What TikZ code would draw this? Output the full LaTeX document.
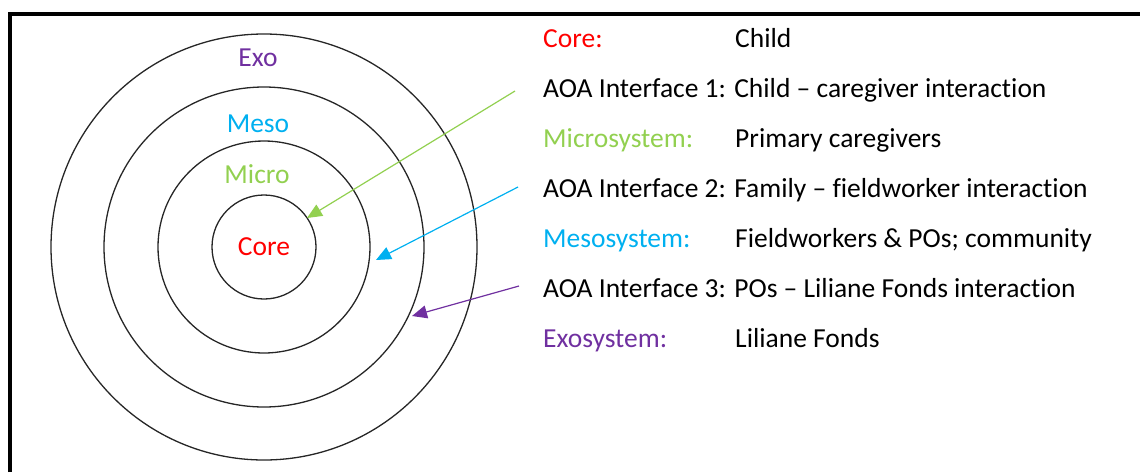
\documentclass[tikz,border=0pt]{standalone}
\usepackage{fontspec}
\setmainfont{Carlito}[RawFeature=-liga]
\usetikzlibrary{arrows.meta}
\tikzset{>=latex}
\colorlet{corecol}{red}
\definecolor{microcol}{RGB}{146,208,80}
\definecolor{mesocol}{RGB}{0,176,240}
\definecolor{exocol}{RGB}{112,48,160}
\tikzstyle{ring}=[line width=1.3pt,black!85]
\tikzstyle{frame}=[line width=4pt,black]
\tikzstyle{lbl}=[inner sep=0pt,font=\fontsize{27.5}{32}\selectfont]
\tikzstyle{row}=[lbl,anchor=base west]
\tikzset{
  pointer/.style={line width=1.2pt,#1,-{Triangle[length=15pt,width=13pt]}},
  pointer/.default=black}

\begin{document}
\begin{tikzpicture}[x=1pt,y=-1pt]
  \def\cx{264}
  \def\cy{247}
  \def\xa{543}
  \def\xb{735}
  \useasboundingbox (0,0) rectangle (1140,472);

  % FRAME
  \draw[frame] (10,472) -- (10,14) -- (1140,14);

  % CIRCLES
  \foreach \r in {52,106,160,213}{
    \draw[ring] (\cx,\cy) circle (\r);
  }
  \node[lbl,text=corecol]  (core)  at (\cx,\cy) {Core};
  \node[lbl,text=microcol] (micro) at (257,174) {Micro};
  \node[lbl,text=mesocol]  (meso)  at (258,124) {Meso};
  \node[lbl,text=exocol]   (exo)   at (258,58)  {Exo};

  % LEGEND
  \node[row,text=corecol]  (l1) at (\xa,47) {Core:};
  \node[row]               (r1) at (\xb,47) {Child};
  \node[row]               (l2) at (\xa,97) {AOA Interface 1: Child -- caregiver interaction};
  \node[row,text=microcol] (l3) at (\xa,147) {Microsystem:};
  \node[row]               (r3) at (\xb,147) {Primary caregivers};
  \node[row]               (l4) at (\xa,197) {AOA Interface 2: Family -- fieldworker interaction};
  \node[row,text=mesocol]  (l5) at (\xa,247) {Mesosystem:};
  \node[row]               (r5) at (\xb,247) {Fieldworkers \& POs; community};
  \node[row]               (l6) at (\xa,297) {AOA Interface 3: POs -- Liliane Fonds interaction};
  \node[row,text=exocol]   (l7) at (\xa,347) {Exosystem:};
  \node[row]               (r7) at (\xb,347) {Liliane Fonds};

  % POINTERS
  \coordinate (s1) at (515,91);
  \coordinate (t1) at (307,218);
  \coordinate (s2) at (518,187);
  \coordinate (t2) at (376,260);
  \coordinate (s3) at (519,286);
  \coordinate (t3) at (412,316);
  \draw[pointer=microcol] (s1) -- (t1);
  \draw[pointer=mesocol]  (s2) -- (t2);
  \draw[pointer=exocol]   (s3) -- (t3);
\end{tikzpicture}
\end{document}
